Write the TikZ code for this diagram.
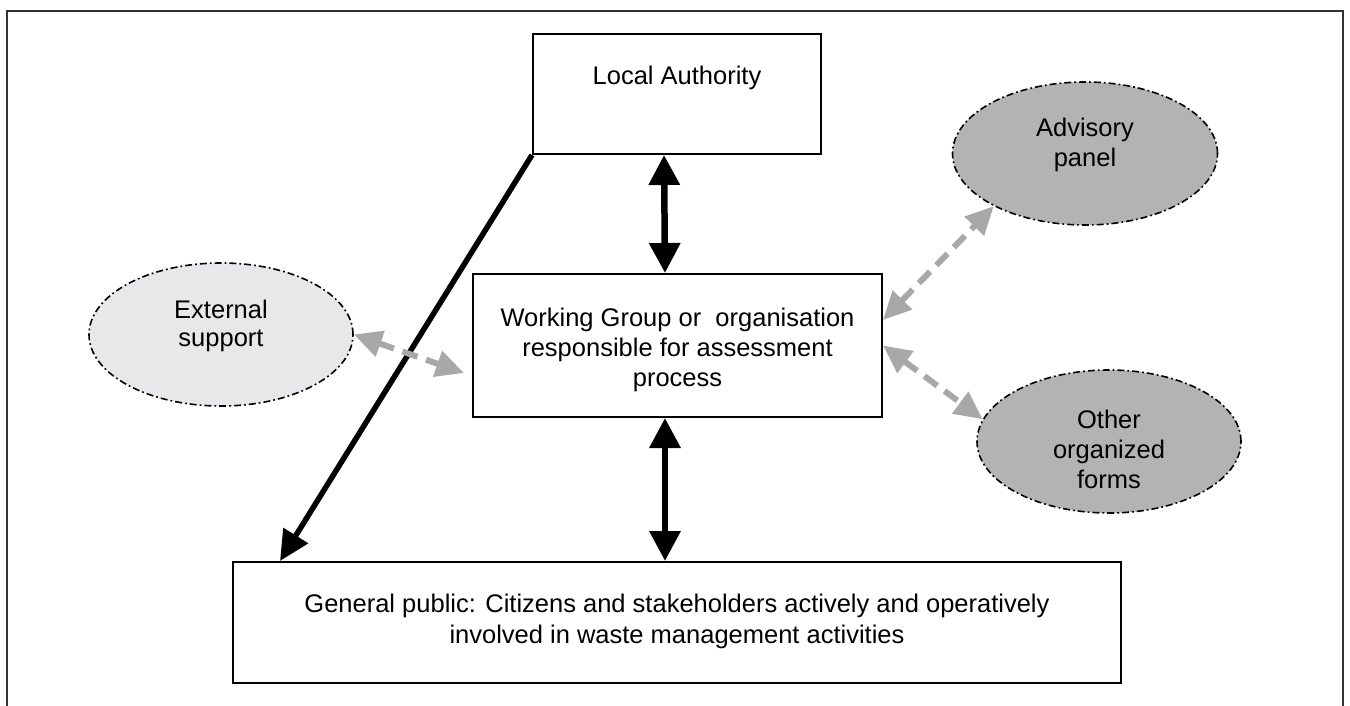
\documentclass[tikz,border=0pt]{standalone}
\usepackage{fontspec}
\setmainfont{Liberation Sans}
\usetikzlibrary{arrows.meta,shapes.geometric}
\definecolor{framegray}{HTML}{333333}
\definecolor{lightfill}{HTML}{E8E8EA}
\definecolor{darkfill}{HTML}{B3B3B3}
\definecolor{arrowgray}{HTML}{A8A8A8}
\tikzset{
  txt/.style={font=\fontsize{25.5}{30}\selectfont, align=center, inner sep=0pt},
  boxnode/.style={draw=black, line width=2pt, inner sep=0pt},
  ovalnode/.style={ellipse, draw=black, line width=1.6pt, inner sep=0pt,
    dash pattern=on 7pt off 3pt on 1.8pt off 3pt},
  blackarrow/.style={line width=6.5pt, {Triangle[length=30pt,width=30pt]}-{Triangle[length=30pt,width=30pt]}},
  blackone/.style={line width=5.5pt, -{Triangle[length=30pt,width=28pt]}},
  grayarrow/.style={draw=arrowgray, line width=6pt, dash pattern=on 16pt off 9pt,
    {Triangle[length=28pt,width=26pt,fill=arrowgray]}-{Triangle[length=28pt,width=26pt,fill=arrowgray]}}
}
\begin{document}
\begin{tikzpicture}[x=1pt,y=-1pt]
\useasboundingbox (0,0) rectangle (1350,706);
% outer frame (bottom edge lies outside the picture)
\draw[framegray, line width=2pt] (6.5,720) -- (6.5,11) -- (1343,11) -- (1343,720);

% boxes
\node[boxnode, minimum width=288pt, minimum height=120pt] (la) at (677,94) {};
\node[txt] (latext) at (677,78) {Local Authority};
\node[boxnode, minimum width=409pt, minimum height=143pt] (wg) at (677.5,345.5) {};
\node[txt] (wgtext) at (677.5,350)
  {Working Group or \ organisation\\responsible for assessment\\process};
\node[boxnode, minimum width=888pt, minimum height=121pt] (gp) at (677,622.5) {};
\node[txt, font=\fontsize{25.5}{31}\selectfont] (gptext) at (677,621)
  {General public: Citizens and stakeholders actively and operatively\\involved in waste management activities};

% ellipses
\node[ovalnode, fill=lightfill, minimum width=264pt, minimum height=143pt] (ext) at (221,334.5) {};
\node[txt, font=\fontsize{25.5}{28}\selectfont] (exttext) at (221,326) {External\\support};
\node[ovalnode, fill=darkfill, minimum width=265pt, minimum height=143pt] (adv) at (1085,153.5) {};
\node[txt] (advtext) at (1085,145) {Advisory\\panel};
\node[ovalnode, fill=darkfill, minimum width=264pt, minimum height=143pt] (oth) at (1109,441.5) {};
\node[txt] (othtext) at (1109,449) {Other\\organized\\forms};

% black connectors
\draw[blackarrow] ([xshift=-13pt]la.south) -- ([xshift=-12.5pt]wg.north);
\draw[blackarrow] ([xshift=-12.5pt]wg.south) -- ([xshift=-12pt]gp.north);
\draw[blackone] (la.south west) -- ([xshift=48pt]gp.north west);

% gray connectors
\draw[grayarrow] (ext.east) -- ([xshift=-8pt,yshift=-27.5pt]wg.west);
\draw[grayarrow] ([yshift=25.5pt]wg.east) -- (adv.210);
\draw[grayarrow] (wg.east) -- (oth.170);
\end{tikzpicture}
\end{document}
